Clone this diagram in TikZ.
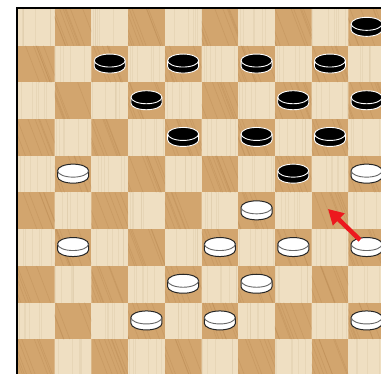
\documentclass[tikz,border=0pt]{standalone}
\usetikzlibrary{arrows.meta}
\definecolor{lightsq}{RGB}{239,223,194}
\definecolor{darksq}{RGB}{210,165,110}
\definecolor{grainD}{RGB}{170,120,65}
\definecolor{grainL}{RGB}{215,195,160}
\definecolor{arrowred}{RGB}{236,24,30}
\begin{document}
\begin{tikzpicture}[x=1pt,y=1pt,
  pics/blackman/.style={code={
    \path[fill=black,draw=white,line width=0.9pt] (-15.5,2.5) -- (-15.5,-3.5)
      arc[start angle=180,end angle=360,x radius=15.5,y radius=6.5] -- (15.5,2.5)
      arc[start angle=0,end angle=180,x radius=15.5,y radius=6.5] -- cycle;
    \draw[white,line width=0.9pt] (-15.5,2.5) arc[start angle=180,end angle=360,x radius=15.5,y radius=6.5];
  }},
  pics/whiteman/.style={code={
    \path[fill=white,draw=black!85,line width=1pt] (-15.5,2.5) -- (-15.5,-3.5)
      arc[start angle=180,end angle=360,x radius=15.5,y radius=6.5] -- (15.5,2.5)
      arc[start angle=0,end angle=180,x radius=15.5,y radius=6.5] -- cycle;
    \draw[black!60,line width=0.9pt] (-15.5,2.5) arc[start angle=180,end angle=360,x radius=15.5,y radius=6.5];
  }},
  movearrow/.style={arrowred,line width=4.5pt,-{Triangle[length=15pt,width=16pt]}}
]
\def\s{36.7}
\useasboundingbox (0,0) rectangle (381,374);
\fill[white] (0,0) rectangle (381,374);
\begin{scope}
  \clip (18,0) rectangle (381,365);
  \fill[lightsq] (18,0) rectangle (400,365);
  \pgfmathsetseed{7}
  \foreach \r in {0,...,9}{
    \foreach \c in {0,...,9}{
      \pgfmathtruncatemacro\odd{mod(\r+\c,2)}
      \ifnum\odd=1
        \begin{scope}
          \clip ({18+\c*\s},{365-(\r+1)*\s}) rectangle ++(\s,\s);
          \fill[darksq] ({18+\c*\s},{365-(\r+1)*\s}) rectangle ++(\s,\s);
          \foreach \k in {1,...,9}{
            \pgfmathsetmacro\xx{18+\c*\s+rnd*\s*1.4-0.2*\s}
            \pgfmathsetmacro\yy{365-(\r+1)*\s}
            \draw[grainD,opacity=0.22,line width=0.7pt] (\xx,\yy) -- ++(-14,\s);
          }
        \end{scope}
      \else
        \begin{scope}
          \clip ({18+\c*\s},{365-(\r+1)*\s}) rectangle ++(\s,\s);
          \foreach \k in {1,...,6}{
            \pgfmathsetmacro\xx{18+\c*\s+rnd*\s}
            \pgfmathsetmacro\yy{365-(\r+1)*\s}
            \draw[grainL,opacity=0.3,line width=0.6pt] (\xx,\yy) -- ++(0,\s);
          }
        \end{scope}
      \fi
    }
  }
  % black men
  \foreach \r/\c in {0/9, 1/2, 1/4, 1/6, 1/8, 2/3, 2/7, 2/9, 3/4, 3/6, 3/8, 4/7}
    \pic at ({18+(\c+0.5)*\s},{365-(\r+0.5)*\s+1}) {blackman};
  % white men
  \foreach \r/\c in {4/1, 4/9, 5/6, 6/1, 6/5, 6/7, 6/9, 7/4, 7/6, 8/3, 8/5, 8/9}
    \pic at ({18+(\c+0.5)*\s},{365-(\r+0.5)*\s+1}) {whiteman};
\end{scope}
\draw[line width=2pt] (17,0) -- (17,366) -- (381,366);
\coordinate (tail) at (360,134);
\coordinate (tip) at (328,165);
\draw[movearrow] (tail) -- (tip);
\end{tikzpicture}
\end{document}
